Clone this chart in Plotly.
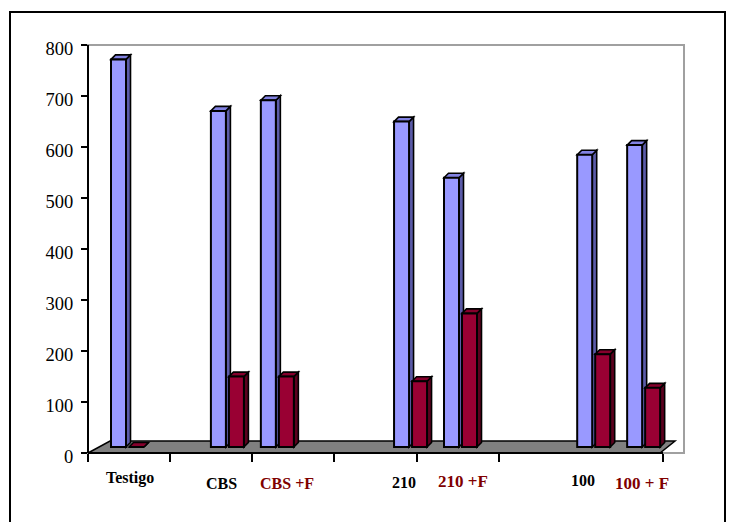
import plotly.graph_objects as go

# ---- data ----
categories = ["Testigo", "CBS", "CBS +F", "210", "210 +F", "100", "100 + F"]
serie_azul = [760, 659, 680, 638, 528, 573, 592]
serie_roja = [0, 138, 138, 129, 262, 182, 116]
label_colors = ["#000000", "#000000", "#800000", "#000000", "#800000", "#000000", "#800000"]
y_ticks = [0, 100, 200, 300, 400, 500, 600, 700, 800]

# ---- layout geometry (pixels of the 736x522 canvas) ----
W, H = 736, 522
PL, PR, PT, PB = 88, 684, 45, 453          # plot area
SLOT_PX = 16.65                             # one x unit in pixels
group_pos = [0, 6, 9, 17, 20, 28, 31]       # group centres along x
label_shift = [0.15, -0.35, 0.6, -0.4, 0.15, -0.65, -0.1]
label_size = [16, 16, 16, 16, 17, 16, 17]
label_ypx = [478, 483, 483, 482, 481, 480, 483]

x_lo = -39.5 / SLOT_PX
x_hi = x_lo + (PR - PL) / SLOT_PX
px_per_val = (PB - PT) / 800.0
lift = 6 / px_per_val            # bars stand mid-depth on the floor
dx = 4.5 / SLOT_PX               # depth offset of the 3-D faces
dy = 4.5 / px_per_val
bar_w = 15 / SLOT_PX
offsets = [-16.5 / SLOT_PX, 1.5 / SLOT_PX]

front = ["#9999FF", "#990033"]
top_c = ["#8282E2", "#86002C"]
side_c = ["#5B5BA8", "#5C001E"]

SERIF = "Liberation Serif, Times New Roman, serif"

fig = go.Figure()
shapes = []

def px_x(p):
    return (p - PL) / (PR - PL)

def px_y(p):
    return (PB - p) / (PB - PT)

# outer frame of the chart
shapes.append(dict(type="rect", xref="paper", yref="paper",
                   x0=px_x(10), x1=px_x(725), y0=px_y(560), y1=px_y(12),
                   line=dict(color="black", width=2), layer="below"))
# back wall outline
shapes.append(dict(type="rect", xref="paper", yref="paper", x0=0, x1=1, y0=0, y1=1,
                   line=dict(color="#A0A0A0", width=2), layer="below"))
# floor
shapes.append(dict(type="path", xref="paper", yref="paper",
                   path=(f"M {px_x(88)},{px_y(453)} L {px_x(660)},{px_y(453)} "
                         f"L {px_x(675)},{px_y(441)} L {px_x(110)},{px_y(441)} Z"),
                   fillcolor="#808080", line=dict(color="black", width=1.5), layer="below"))
# axis lines
shapes.append(dict(type="line", xref="paper", yref="paper", x0=0, x1=0, y0=0, y1=1,
                   line=dict(color="black", width=2), layer="below"))
shapes.append(dict(type="line", xref="paper", yref="paper", x0=0, x1=px_x(663), y0=0, y1=0,
                   line=dict(color="black", width=2), layer="below"))

# anchor trace so the value axis is drawn
fig.add_trace(go.Scatter(x=[group_pos[0]], y=[0], mode="markers",
                         marker=dict(opacity=0), hoverinfo="skip", yaxis="y"))

for s, (vals, name) in enumerate([(serie_azul, "Serie 1"), (serie_roja, "Serie 2")]):
    fig.add_trace(go.Bar(
        x=group_pos, y=vals, width=bar_w, offset=offsets[s], yaxis="y2",
        name=name, text=categories, hovertemplate="%{text}: %{y}<extra></extra>",
        textposition="none",
        marker=dict(color=front[s], line=dict(color="black", width=2)),
    ))
    for g, v in zip(group_pos, vals):
        xl = g + offsets[s]
        xr = xl + bar_w
        shapes.append(dict(type="path", xref="x", yref="y2",
                           path=f"M {xr},0 L {xr+dx},{dy} L {xr+dx},{v+dy} L {xr},{v} Z",
                           fillcolor=side_c[s], line=dict(color="black", width=1.6),
                           layer="below"))
        shapes.append(dict(type="path", xref="x", yref="y2",
                           path=f"M {xl},{v} L {xl+dx},{v+dy} L {xr+dx},{v+dy} L {xr},{v} Z",
                           fillcolor=top_c[s], line=dict(color="black", width=1.6),
                           layer="below"))

# category labels
annotations = []
for i, c in enumerate(categories):
    annotations.append(dict(
        x=group_pos[i] + label_shift[i], y=px_y(label_ypx[i]),
        xref="x", yref="paper", text=f"<b>{c}</b>",
        showarrow=False, xanchor="center", yanchor="middle",
        font=dict(family=SERIF, size=label_size[i], color=label_colors[i]),
    ))

cat_step = (663 - 88) / 7 / SLOT_PX
x_tickvals = [x_lo + i * cat_step for i in range(8) if i != 6]

fig.update_layout(
    width=W, height=H,
    margin=dict(l=PL, r=W - PR, t=PT, b=H - PB),
    paper_bgcolor="white", plot_bgcolor="white",
    showlegend=False, barmode="overlay",
    shapes=shapes, annotations=annotations,
    xaxis=dict(range=[x_lo, x_hi], showgrid=False, zeroline=False, showline=False,
               tickvals=x_tickvals, showticklabels=False, ticks="outside",
               ticklen=8, tickwidth=1.5, tickcolor="black"),
    yaxis=dict(range=[0, 800], tickvals=y_ticks, showgrid=False, zeroline=False,
               showline=False, ticks="outside", ticklen=6, tickwidth=1.5,
               tickcolor="black", ticklabelstandoff=4, ticklabelshift=4,
               tickfont=dict(family=SERIF, size=18.5, color="black")),
    yaxis2=dict(range=[-lift, 800 - lift], overlaying="y", visible=False),
)

fig.write_html("out.html")
